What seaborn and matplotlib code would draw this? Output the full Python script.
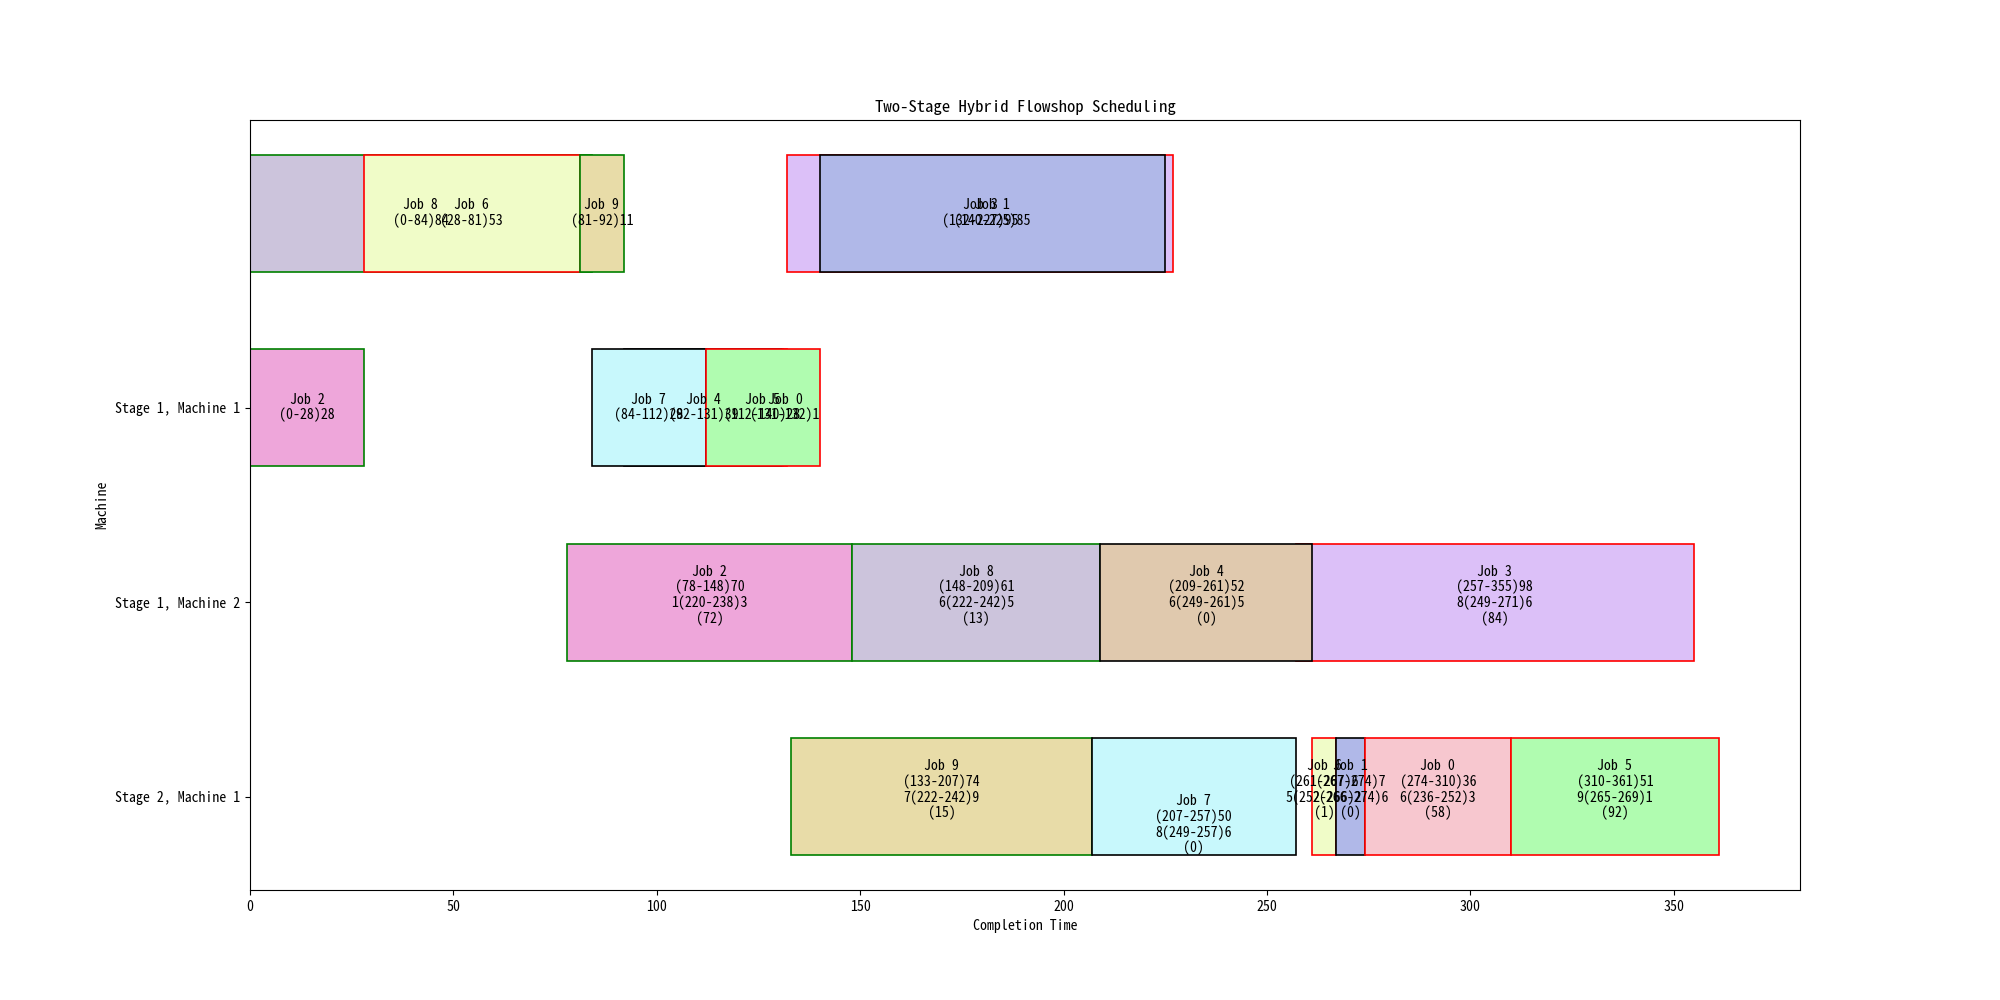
import matplotlib
matplotlib.use("Agg")
import matplotlib.pyplot as plt
import seaborn as sns

# ==============================
# data
# ==============================

machines = ["Stage 2, Machine 1", "Stage 1, Machine 2", "Stage 1, Machine 1"]

job_colors = {
    0: "#f7c7cf", 1: "#b0b8e8", 2: "#eea6da", 3: "#dcc0f8", 4: "#e0c9ae",
    5: "#b0fcb0", 6: "#f0fcc8", 7: "#c8f8fc", 8: "#ccc4dc", 9: "#e8dca8",
}

# stage-2 info per job: tag, due window, weight
due_tag = {0: 6, 1: 2, 2: 1, 3: 8, 4: 6, 5: 9, 6: 5, 7: 8, 8: 6, 9: 7}
due_lo = {0: 236, 1: 266, 2: 220, 3: 249, 4: 249, 5: 265, 6: 252, 7: 249, 8: 222, 9: 222}
due_hi = {0: 252, 1: 274, 2: 238, 3: 271, 4: 261, 5: 269, 6: 266, 7: 257, 8: 242, 9: 242}
weight = {0: 3, 1: 6, 2: 3, 3: 6, 4: 5, 5: 1, 6: 2, 7: 6, 8: 5, 9: 9}

# stage-1 operations (row, job, start, end) in drawing order
s1_row = [3, 3, 3, 3, 3, 2, 2, 2, 2, 2]
s1_job = [8, 6, 9, 3, 1, 2, 4, 0, 7, 5]
s1_start = [0, 28, 81, 132, 140, 0, 92, 131, 84, 112]
s1_end = [84, 81, 92, 227, 225, 28, 131, 132, 112, 140]

# stage-2 operations
s2_row = [1, 1, 1, 1, 0, 0, 0, 0, 0, 0]
s2_job = [2, 8, 3, 4, 9, 7, 6, 1, 0, 5]
s2_start = [78, 148, 257, 209, 133, 207, 261, 267, 274, 310]
s2_end = [148, 209, 355, 261, 207, 257, 267, 274, 310, 361]


def penalty(j, c):
    return max(due_lo[j] - c, c - due_hi[j], 0)


def edge_for(j, c):
    if c < due_lo[j]:
        return "green"
    if c > due_hi[j]:
        return "red"
    return "black"


completion = {j: c for j, c in zip(s2_job, s2_end)}
label_nudge = {7: -0.18}

# ==============================
# plot
# ==============================

sns.set_style("ticks", {"axes.edgecolor": "black", "xtick.color": "black",
                        "ytick.color": "black", "text.color": "black",
                        "axes.labelcolor": "black"})
plt.rcParams["font.family"] = ["Noto Sans Mono CJK SC", "Noto Sans CJK SC", "DejaVu Sans"]
plt.rcParams["font.size"] = 10

fig, ax = plt.subplots(figsize=(20, 10), dpi=100)
fig.subplots_adjust(left=0.125, right=0.9, bottom=0.11, top=0.88)

for r, j, s, e in zip(s1_row, s1_job, s1_start, s1_end):
    ax.barh(r, e - s, left=s, height=0.6, color=job_colors[j],
            edgecolor=edge_for(j, completion[j]), linewidth=1.2)
    ax.text((s + e) / 2, r, f"Job {j}\n({s}-{e}){e - s}",
            ha="center", va="center", linespacing=1.1)

for r, j, s, e in zip(s2_row, s2_job, s2_start, s2_end):
    ax.barh(r, e - s, left=s, height=0.6, color=job_colors[j],
            edgecolor=edge_for(j, e), linewidth=1.2)
    txt = (f"Job {j}\n({s}-{e}){e - s}\n"
           f"{due_tag[j]}({due_lo[j]}-{due_hi[j]}){weight[j]}\n({penalty(j, e)})")
    ax.text((s + e) / 2, r + 0.035 + label_nudge.get(j, 0), txt,
            ha="center", va="center", linespacing=1.1)

ax.set_xlim(0, 381)
ax.set_yticks(range(len(machines)))
ax.set_yticklabels(machines)
ax.set_xlabel("Completion Time")
ax.set_ylabel("Machine")
ax.set_title("Two-Stage Hybrid Flowshop Scheduling")

plt.savefig("out.png")
